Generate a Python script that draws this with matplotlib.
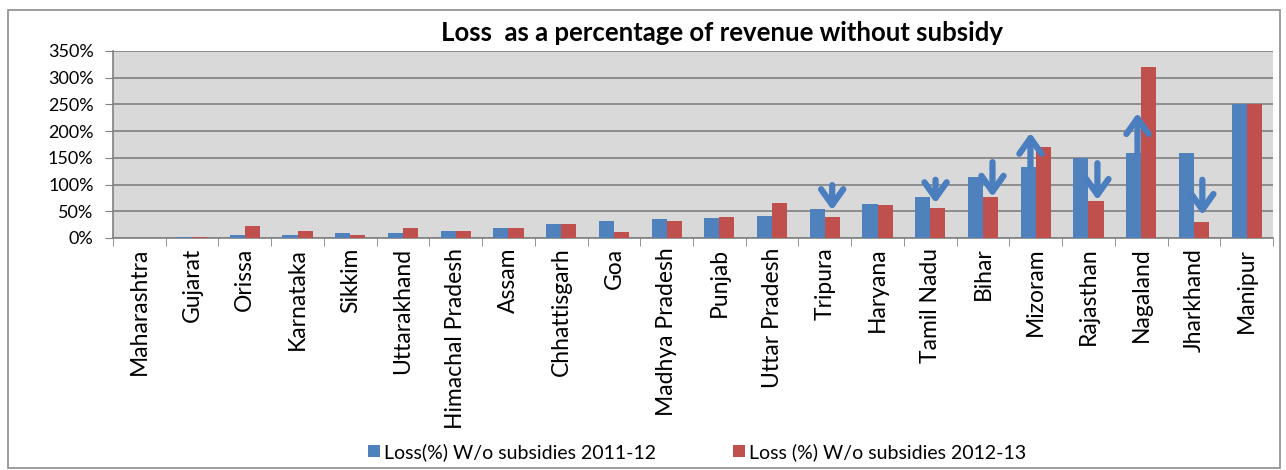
import numpy as np
import matplotlib
matplotlib.use('Agg')
import matplotlib.pyplot as plt
from matplotlib.patches import Rectangle
from matplotlib.ticker import FixedLocator

states = ['Maharashtra', 'Gujarat', 'Orissa', 'Karnataka', 'Sikkim', 'Uttarakhand',
          'Himachal Pradesh', 'Assam', 'Chhattisgarh', 'Goa', 'Madhya Pradesh', 'Punjab',
          'Uttar Pradesh', 'Tripura', 'Haryana', 'Tamil Nadu', 'Bihar', 'Mizoram',
          'Rajasthan', 'Nagaland', 'Jharkhand', 'Manipur']
loss_2011_12 = [0, 2, 5, 5, 10, 10, 13, 18, 26, 31, 36, 38, 42, 55, 64, 76, 115, 132,
                150, 160, 160, 250]
loss_2012_13 = [0, 2, 22, 13, 5, 18, 13, 18, 26, 11, 31, 40, 65, 40, 61, 57, 76, 171,
                69, 320, 30, 250]
series_names = ['Loss(%) W/o subsidies 2011-12', 'Loss (%) W/o subsidies 2012-13']
yticks = [0, 50, 100, 150, 200, 250, 300, 350]

# change arrows: (state, direction, x offset, gap from bar, length)
arrows = [('Tripura', 'down', 0.14, 12, 47), ('Tamil Nadu', 'down', 0.10, 8, 44),
          ('Bihar', 'down', 0.18, 1, 65), ('Mizoram', 'up', -0.10, 1, 64),
          ('Rajasthan', 'down', 0.17, 2, 69), ('Nagaland', 'up', -0.07, -1, 75),
          ('Jharkhand', 'down', 0.16, 13, 66)]

blue = '#4f81bd'
red = '#c0504d'
arrow_blue = '#4a7ebf'
font = 'Lato'

fig = plt.figure(figsize=(12.86, 4.70), dpi=100)
ax = fig.add_axes([113 / 1286, 1 - 238 / 470, (1273 - 113) / 1286, (238 - 51) / 470])

fig.patches.append(Rectangle((8 / 1286, 2 / 470), 1272 / 1286, 458 / 470,
                             transform=fig.transFigure, fill=False,
                             edgecolor='#8c8c8c', lw=1.2))

x = np.arange(len(states))
w = 1 / 3.5
ax.set_facecolor('#d9d9d9')
ax.bar(x - w / 2, loss_2011_12, w, color=blue, label=series_names[0], zorder=3)
ax.bar(x + w / 2, loss_2012_13, w, color=red, label=series_names[1], zorder=3)

for name, direction, dx, gap, length in arrows:
    i = states.index(name)
    if direction == 'down':
        tip = loss_2012_13[i] + gap
        tail = tip + length
    else:
        tail = loss_2011_12[i] + gap
        tip = tail + length
    ax.annotate('', xy=(i + dx, tip), xytext=(i + dx, tail),
                arrowprops=dict(arrowstyle='->,head_length=0.45,head_width=0.32',
                                lw=4.5, color=arrow_blue, mutation_scale=25,
                                shrinkA=0, shrinkB=0),
                zorder=5)

ax.set_xlim(-0.5, len(states) - 0.5)
ax.set_ylim(0, 350)
ax.set_yticks(yticks)
ax.set_yticklabels(['{}%'.format(v) for v in yticks], fontsize=13, family=font)
ax.yaxis.grid(True, color='#808080', lw=1.2, zorder=1)
ax.set_axisbelow(True)

ax.set_xticks(x)
ax.set_xticklabels(states, rotation=90, fontsize=16.5, family=font)
ax.xaxis.set_minor_locator(FixedLocator(np.arange(-0.5, len(states), 1)))
ax.tick_params(axis='x', which='major', length=0, pad=7)
ax.tick_params(axis='x', which='minor', length=6, color='#808080', direction='out')
ax.tick_params(axis='y', length=6, color='#808080', pad=8)

for s in ['top', 'right']:
    ax.spines[s].set_visible(False)
for s in ['left', 'bottom']:
    ax.spines[s].set_color('#808080')
    ax.spines[s].set_linewidth(1.2)

fig.text(722 / 1286, 1 - 33 / 470, 'Loss  as a percentage of revenue without subsidy',
         ha='center', va='center', fontsize=18.5, fontweight='bold', family=font)

fig.legend(loc='center', bbox_to_anchor=(697 / 1286, 1 - 452 / 470), ncol=2,
           frameon=False, prop={'family': font, 'size': 14}, columnspacing=4.0,
           handlelength=0.6, handleheight=0.6, handletextpad=0.2)

fig.savefig('out.png', dpi=100)
